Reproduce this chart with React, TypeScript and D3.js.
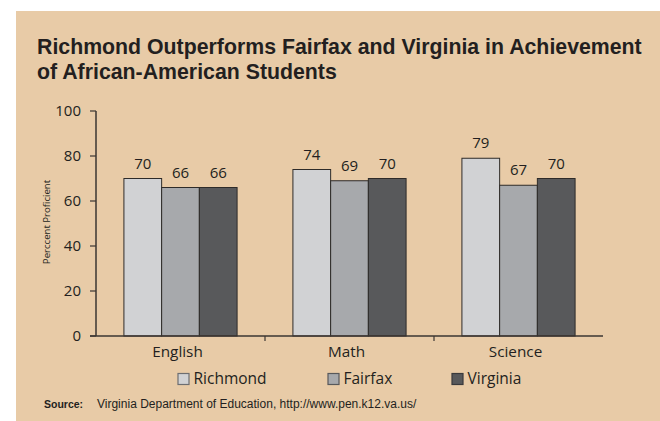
import React from "react";
import { scaleBand, scaleLinear } from "d3";

// chart data
const subjects = ["English", "Math", "Science"];
const seriesNames = ["Richmond", "Fairfax", "Virginia"];
const richmond = [70, 74, 79];
const fairfax = [66, 69, 67];
const virginia = [66, 70, 70];
const yTicks = [0, 20, 40, 60, 80, 100];

const seriesValues = [richmond, fairfax, virginia];
const colours = ["#d1d2d4", "#a7a9ac", "#58595b"];
const legendStroke = ["#6d6e71", "#58595b", "#3a3a3c"];

const W = 660;
const H = 421;
const textCol = "#231f20";
const axisCol = "#3b3632";
const font = "'Open Sans', sans-serif";
const arial = "'Liberation Sans', Arial, sans-serif";

const App = () => {
  const x0 = scaleBand().domain(subjects).range([96, 603]).padding(0);
  const x1 = scaleBand()
    .domain(seriesNames)
    .range([0, x0.bandwidth()])
    .paddingInner(0)
    .paddingOuter(0.74);
  const y = scaleLinear().domain([0, 100]).range([336, 111]);

  // legend swatch x positions
  const legendX = [178, 328, 452];

  return (
    <svg
      width={W}
      height={H}
      style={{ position: "absolute", left: 0, top: 0, display: "block" }}
    >
      <rect x={0} y={0} width={W} height={H} fill="#ffffff" />
      <rect x={16} y={11} width={W - 16} height={H - 11} fill="#e8cba7" />

      {/* title */}
      <text x={37} y={54} fontFamily={arial} fontWeight="bold" fontSize={21.3} fill={textCol}>
        Richmond Outperforms Fairfax and Virginia in Achievement
      </text>
      <text x={37} y={79} fontFamily={arial} fontWeight="bold" fontSize={21.3} fill={textCol}>
        of African-American Students
      </text>

      {/* y axis */}
      <line x1={96} x2={96} y1={y(100)} y2={y(0)} stroke={axisCol} strokeWidth={1.5} />
      {yTicks.map((t) => (
        <g key={t}>
          <line x1={90} x2={96} y1={y(t)} y2={y(t)} stroke={axisCol} strokeWidth={1.2} />
          <text
            x={81}
            y={y(t)}
            dy="0.36em"
            textAnchor="end"
            fontFamily={font}
            fontSize={15}
            fill={textCol}
          >
            {t}
          </text>
        </g>
      ))}
      <text
        transform={`translate(50, 222) rotate(-90)`}
        textAnchor="middle"
        fontFamily={font}
        fontSize={9.6}
        fill={textCol}
      >
        Perccent Proficient
      </text>

      {/* bars */}
      {subjects.map((s, i) => (
        <g key={s} transform={`translate(${x0(s)},0)`}>
          {seriesNames.map((n, j) => {
            const v = seriesValues[j][i];
            return (
              <g key={n}>
                <rect
                  x={x1(n)}
                  y={y(v)}
                  width={x1.bandwidth()}
                  height={y(0) - y(v)}
                  fill={colours[j]}
                  stroke="#2e2b29"
                  strokeWidth={1}
                />
                <text
                  x={(x1(n) as number) + x1.bandwidth() / 2}
                  y={y(v) - 10}
                  textAnchor="middle"
                  fontFamily={font}
                  fontSize={15}
                  fill={textCol}
                >
                  {v}
                </text>
              </g>
            );
          })}
        </g>
      ))}

      {/* x axis */}
      <line x1={90} x2={603} y1={y(0)} y2={y(0)} stroke={axisCol} strokeWidth={1.5} />
      {subjects.slice(1).map((s) => (
        <line
          key={s}
          x1={x0(s)}
          x2={x0(s)}
          y1={y(0)}
          y2={y(0) + 5}
          stroke={axisCol}
          strokeWidth={1.2}
        />
      ))}
      {subjects.map((s) => (
        <text
          key={s}
          x={(x0(s) as number) + x0.bandwidth() / 2 - 3}
          y={357}
          textAnchor="middle"
          fontFamily={font}
          fontSize={15.3}
          fill={textCol}
        >
          {s}
        </text>
      ))}

      {/* legend */}
      {seriesNames.map((n, j) => (
        <g key={n}>
          <rect
            x={legendX[j]}
            y={373.5}
            width={11}
            height={11}
            fill={colours[j]}
            stroke={legendStroke[j]}
            strokeWidth={1.2}
          />
          <text x={legendX[j] + 15.5} y={384} fontFamily={font} fontSize={15.5} fill={textCol}>
            {n}
          </text>
        </g>
      ))}

      {/* source */}
      <text x={44} y={408} fontFamily={arial} fontSize={10.5} fontWeight="bold" fill={textCol}>
        Source:
      </text>
      <text x={97} y={408} fontFamily={arial} fontSize={12} fill={textCol}>
        Virginia Department of Education, http://www.pen.k12.va.us/
      </text>
    </svg>
  );
};

export default App;
